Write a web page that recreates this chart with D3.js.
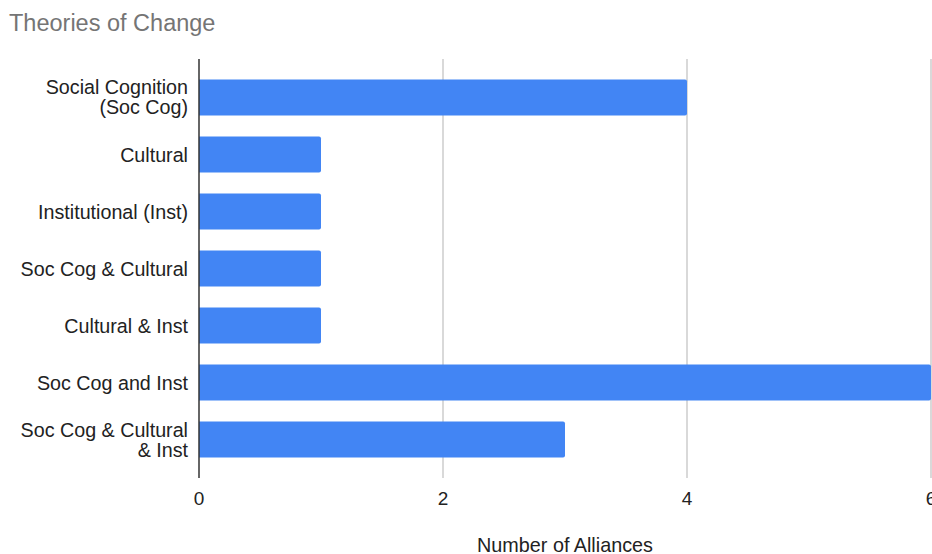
<!DOCTYPE html>
<html><head><meta charset="utf-8">
<script src="https://cdn.jsdelivr.net/npm/d3@7"></script>
<style>body{margin:0;background:#fff;} svg{display:block;font-family:"Liberation Sans",Arial,sans-serif;}</style>
</head><body>
<script>
const categories = [["Social Cognition","(Soc Cog)"],["Cultural"],["Institutional (Inst)"],["Soc Cog & Cultural"],["Cultural & Inst"],["Soc Cog and Inst"],["Soc Cog & Cultural","& Inst"]];
const values = [4,1,1,1,1,6,3];
const xTicks = [0,2,4,6];
const title = "Theories of Change";
const xTitle = "Number of Alliances";

(function(){
const W=932,H=554;
const svg=d3.select("body").append("svg").attr("width",W).attr("height",H);
const pLeft=199,pRight=931,pTop=59,pBottom=478;
const x=d3.scaleLinear().domain([0,6]).range([pLeft,pRight]);
const ids=categories.map((c,i)=>i);
const y=d3.scaleBand().domain(ids).range([pTop,pBottom]).paddingInner(0.37).paddingOuter(0.36);

svg.append("text").attr("x",9).attr("y",31).attr("font-size",23.5).attr("fill","#757575").text(title);

svg.append("g").selectAll("line").data(xTicks.filter(t=>t>0)).join("line")
 .attr("x1",d=>x(d)).attr("x2",d=>x(d)).attr("y1",pTop).attr("y2",pBottom)
 .attr("stroke","#cccccc").attr("stroke-width",1.5);

svg.append("g").selectAll("path").data(values).join("path")
 .attr("fill","#4285f4")
 .attr("d",(d,i)=>{const x0=x(0),x1=x(d),y0=y(i),h=y.bandwidth(),r=2;
   return `M${x0},${y0}H${x1-r}Q${x1},${y0} ${x1},${y0+r}V${y0+h-r}Q${x1},${y0+h} ${x1-r},${y0+h}H${x0}Z`;});

svg.append("line").attr("x1",pLeft).attr("x2",pLeft).attr("y1",pTop).attr("y2",pBottom).attr("stroke","#333").attr("stroke-width",1.5);

svg.append("g").selectAll("text").data(xTicks).join("text")
 .attr("x",d=>x(d)).attr("y",505).attr("text-anchor","middle").attr("font-size",19).attr("fill","#222").text(d=>d);

const yl=svg.append("g").selectAll("text").data(categories).join("text")
 .attr("text-anchor","end").attr("font-size",19.7).attr("fill","#222");
yl.each(function(lines,i){
  const c=y(i)+y.bandwidth()/2, lh=20;
  const start=lines.length===1 ? c+7.5 : c-3;
  d3.select(this).selectAll("tspan").data(lines).join("tspan")
   .attr("x",188).attr("y",(l,j)=>start+j*lh).text(l=>l);
});

svg.append("text").attr("x",565).attr("y",552).attr("text-anchor","middle").attr("font-size",19.8).attr("fill","#222").text(xTitle);
})();
</script>
</body></html>
